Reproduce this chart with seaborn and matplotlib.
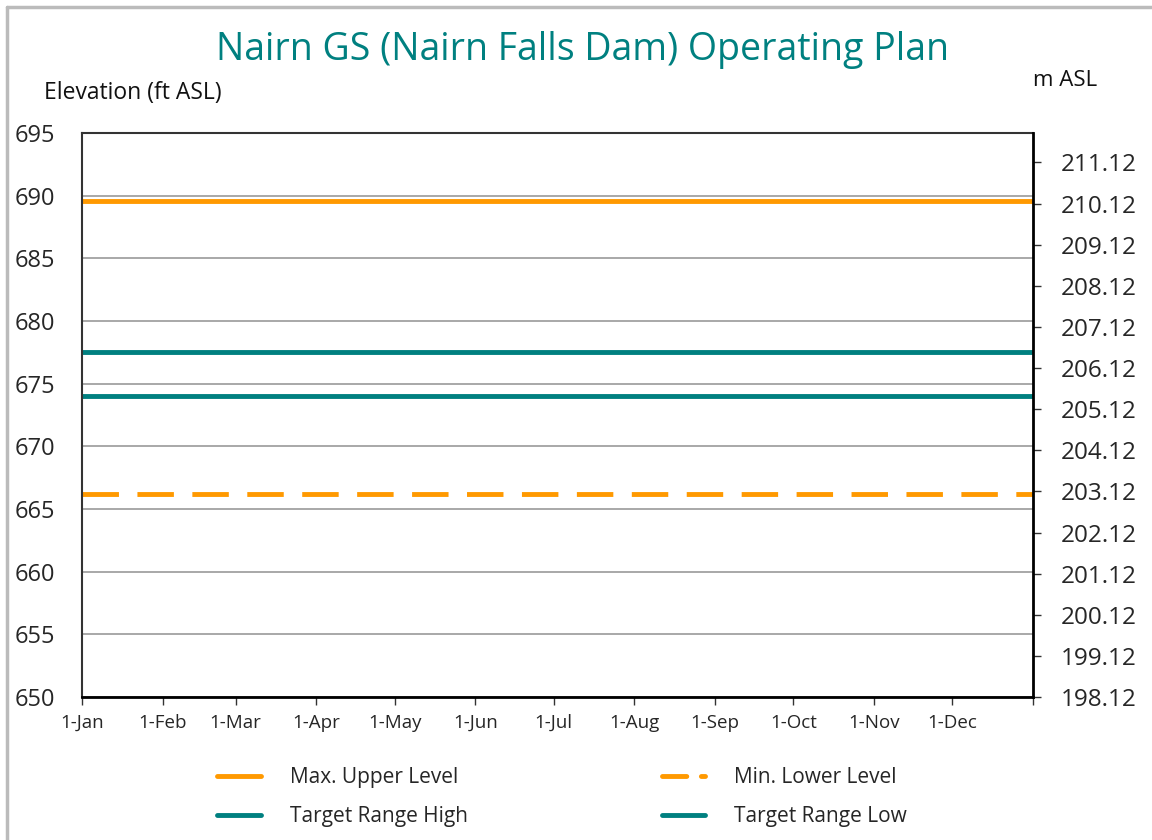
import matplotlib
matplotlib.use("Agg")
import matplotlib.pyplot as plt
import matplotlib.dates as mdates
from matplotlib.lines import Line2D
import seaborn as sns
import pandas as pd
import numpy as np

# ---- data ----
dates = ["2023-01-01", "2023-07-19", "2024-01-01"]
max_upper = [689.6, 689.6, 689.6]
min_lower = [666.2, 666.2, 666.2]
target_high = [677.5, 677.5, 677.5]
target_low = [674.0, 674.0, 674.0]
series_names = ["Max. Upper Level", "Min. Lower Level", "Target Range High", "Target Range Low"]
tick_dates = ["2023-01-01", "2023-02-01", "2023-03-01", "2023-04-01", "2023-05-01", "2023-06-01",
              "2023-07-01", "2023-08-01", "2023-09-01", "2023-10-01", "2023-11-01", "2023-12-01",
              "2024-01-01"]
tick_labels = ["1-Jan", "1-Feb", "1-Mar", "1-Apr", "1-May", "1-Jun", "1-Jul", "1-Aug",
               "1-Sep", "1-Oct", "1-Nov", "1-Dec", ""]
left_ticks = [650, 655, 660, 665, 670, 675, 680, 685, 690, 695]
right_ticks = [198.12, 199.12, 200.12, 201.12, 202.12, 203.12, 204.12, 205.12,
               206.12, 207.12, 208.12, 209.12, 210.12, 211.12]

sns.set_style("white")
plt.rcParams['font.family'] = ['Open Sans', 'DejaVu Sans']

ORANGE = "#FF9900"
TEAL = "#008080"

df = pd.DataFrame({
    "date": pd.to_datetime(dates * 4),
    "value": max_upper + min_lower + target_high + target_low,
    "series": [s for s in series_names for _ in dates],
})

fig = plt.figure(figsize=(11.52, 8.4), dpi=100)
ax = fig.add_axes([82/1152, 1 - 697/840, (1033-82)/1152, (697-133)/840])

palette = {"Max. Upper Level": ORANGE, "Min. Lower Level": ORANGE,
           "Target Range High": TEAL, "Target Range Low": TEAL}
sns.lineplot(data=df, x="date", y="value", hue="series", palette=palette,
             ax=ax, lw=3.5, legend=False, estimator=None)
for line, name in zip(ax.get_lines(), series_names):
    line.set_solid_capstyle("butt")
    if name == "Min. Lower Level":
        line.set_dashes((7.5, 3.8))

x0 = mdates.date2num(pd.Timestamp("2023-01-01"))
x1 = mdates.date2num(pd.Timestamp("2024-01-01"))
ax.set_xlim(x0, x1)
ax.set_ylim(650, 695)
ax.set_yticks(left_ticks)
ax.set_yticklabels([str(t) for t in left_ticks], fontsize=17)
ax.set_xticks([mdates.date2num(pd.Timestamp(d)) for d in tick_dates])
ax.set_xticklabels(tick_labels, fontsize=13.5)
ax.tick_params(axis="x", direction="out", length=6, width=1, color="#333333", pad=6, bottom=True)
ax.tick_params(axis="y", length=0, pad=19)
ax.grid(axis="y", color="#999999", lw=1.2)
ax.set_axisbelow(True)
ax.set_xlabel("")
ax.set_ylabel("")
for s in ["left", "top"]:
    ax.spines[s].set_color("#333333")
    ax.spines[s].set_linewidth(1.5)
ax.spines["bottom"].set_color("black")
ax.spines["bottom"].set_linewidth(2)
ax.spines["right"].set_visible(False)

ax2 = ax.twinx()
ax2.set_ylim(650 * 0.3048, 695 * 0.3048)
ax2.set_yticks(right_ticks)
ax2.set_yticklabels([f"{t:.2f}" for t in right_ticks], fontsize=17.5)
ax2.tick_params(axis="y", direction="out", length=6, width=1, color="#333333", pad=14)
for s in ["left", "top", "bottom"]:
    ax2.spines[s].set_visible(False)
ax2.spines["right"].set_color("black")
ax2.spines["right"].set_linewidth(2)

fig.text(582/1152, 1 - 50/840, "Nairn GS (Nairn Falls Dam) Operating Plan",
         ha="center", va="center", fontsize=27, color=TEAL)
fig.text(44/1152, 1 - 93/840, "Elevation (ft ASL)", ha="left", va="center", fontsize=16.5, color="#111111")
fig.text(1033/1152, 1 - 80/840, "m ASL", ha="left", va="center", fontsize=16, color="#111111")

handles = [
    Line2D([], [], color=ORANGE, lw=3.5, solid_capstyle="round"),
    Line2D([], [], color=TEAL, lw=3.5, solid_capstyle="round"),
    Line2D([], [], color=ORANGE, lw=3.5, dashes=(5, 3), dash_capstyle="round"),
    Line2D([], [], color=TEAL, lw=3.5, solid_capstyle="round"),
]
labels = ["Max. Upper Level", "Target Range High", "Min. Lower Level", "Target Range Low"]
fig.legend(handles, labels, ncol=2, loc="center", bbox_to_anchor=(562/1152, 1 - 797/840),
           frameon=False, fontsize=15, handlelength=2.1, handletextpad=1.4,
           columnspacing=9.3, labelspacing=0.85)

# outer chart border (left and top visible)
fig.add_artist(Line2D([7/1152, 7/1152], [0, 1 - 7/840], color="#BBBBBB", lw=2.5, transform=fig.transFigure))
fig.add_artist(Line2D([7/1152, 1], [1 - 7/840, 1 - 7/840], color="#BBBBBB", lw=2.5, transform=fig.transFigure))

fig.savefig("out.png", dpi=100)
